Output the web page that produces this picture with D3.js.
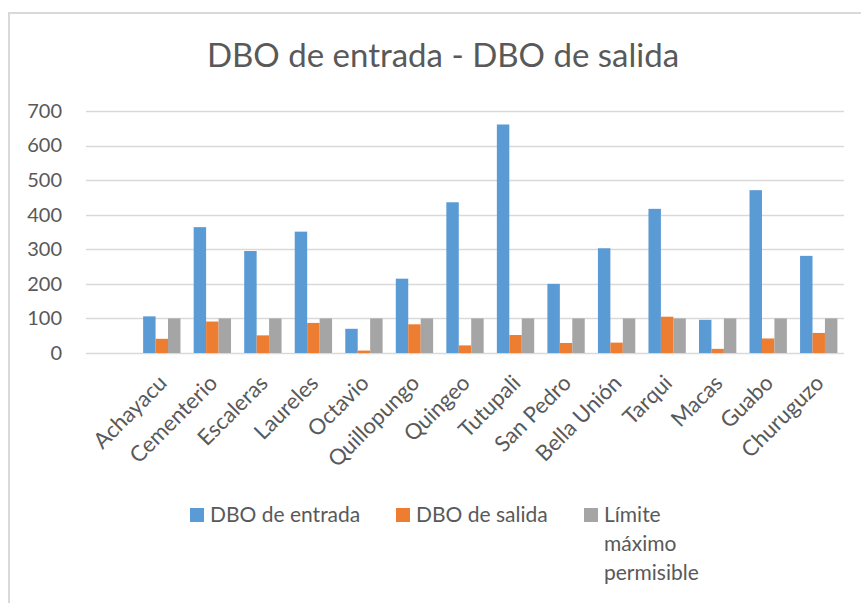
<!DOCTYPE html>
<html>
<head>
<meta charset="utf-8">
<script src="https://cdn.jsdelivr.net/npm/d3@7"></script>
<style>
    body { margin: 0; background: #fff; }
    text { font-family: Lato, "Open Sans", sans-serif; fill: #595959; }
</style>
</head>
<body>
<svg id="chart" width="861" height="603"></svg>
<script>
// Categories (first slot is an empty row in the source sheet)
const categories = ['', 'Achayacu', 'Cementerio', 'Escaleras', 'Laureles', 'Octavio', 'Quillopungo', 'Quingeo',
    'Tutupali', 'San Pedro', 'Bella Unión', 'Tarqui', 'Macas', 'Guabo', 'Churuguzo'];
const dboEntrada = [null, 106, 364, 295, 351, 70, 215, 436, 661, 200, 303, 417, 96, 471, 281];
const dboSalida = [null, 41, 91, 51, 87, 7, 83, 22, 52, 29, 30, 105, 12, 42, 58];
const limite = [null, 100, 100, 100, 100, 100, 100, 100, 100, 100, 100, 100, 100, 100, 100];
const seriesNames = ['DBO de entrada', 'DBO de salida', 'Límite máximo permisible'];
const seriesColors = ['#5B9BD5', '#ED7D31', '#A5A5A5'];
const yTicks = [0, 100, 200, 300, 400, 500, 600, 700];

const svg = d3.select('#chart');
const width = 861, height = 603;

// chart frame
svg.append('path')
    .attr('d', `M9,${height} V13 H${width}`)
    .style('fill', 'none')
    .style('stroke', '#D9D9D9')
    .style('stroke-width', 2);

// title
svg.append('text')
    .attr('x', 443)
    .attr('y', 67)
    .attr('text-anchor', 'middle')
    .style('font-size', '33px')
    .text('DBO de entrada - DBO de salida');

const plot = {left: 86, right: 844, top: 111, bottom: 353};

const x = d3.scaleBand()
    .domain(d3.range(categories.length))
    .range([plot.left, plot.right])
    .paddingInner(0)
    .paddingOuter(0);

const x1 = d3.scaleBand()
    .domain(d3.range(seriesNames.length))
    .range([0, x.bandwidth()])
    .paddingOuter(0.53)
    .paddingInner(0);

const y = d3.scaleLinear()
    .domain([0, 700])
    .range([plot.bottom, plot.top]);

// gridlines
svg.append('g')
    .selectAll('line')
    .data(yTicks)
    .enter()
    .append('line')
    .attr('x1', plot.left)
    .attr('x2', plot.right)
    .attr('y1', d => Math.round(y(d)) + 0.5)
    .attr('y2', d => Math.round(y(d)) + 0.5)
    .style('stroke', '#D9D9D9')
    .style('stroke-width', 1.5);

// y axis labels
const yAxis = svg.append('g')
    .attr('transform', `translate(${plot.left - 24}, 0)`)
    .call(d3.axisLeft(y).tickValues(yTicks).tickSize(0).tickPadding(0));
yAxis.select('.domain').remove();
yAxis.selectAll('text')
    .style('font-family', 'Lato, "Open Sans", sans-serif')
    .style('font-size', '20px')
    .style('fill', '#595959');

// bars
const allSeries = [dboEntrada, dboSalida, limite];
const groups = svg.append('g')
    .selectAll('g')
    .data(categories.map((c, i) => ({c, i})))
    .enter()
    .append('g')
    .attr('transform', d => `translate(${x(d.i)}, 0)`);

groups.selectAll('rect')
    .data(d => allSeries.map((s, k) => ({k, v: s[d.i]})).filter(e => e.v != null))
    .enter()
    .append('rect')
    .attr('x', d => x1(d.k))
    .attr('y', d => y(d.v))
    .attr('width', x1.bandwidth())
    .attr('height', d => y(0) - y(d.v))
    .style('fill', d => seriesColors[d.k]);

// x axis labels, rotated
const xAxis = svg.append('g')
    .attr('transform', `translate(0, ${plot.bottom})`)
    .call(d3.axisBottom(x).tickFormat(i => categories[i]).tickSize(0).tickPadding(0));
xAxis.select('.domain').remove();
xAxis.selectAll('text')
    .attr('transform', 'translate(1, 26) rotate(-45)')
    .attr('text-anchor', 'end')
    .attr('dy', '0.35em')
    .attr('y', 0)
    .style('font-family', 'Lato, "Open Sans", sans-serif')
    .style('font-size', '22px')
    .style('fill', '#595959');

// legend
const legendItems = [
    {x: 190, lines: ['DBO de entrada']},
    {x: 396, lines: ['DBO de salida']},
    {x: 584, lines: ['Límite', 'máximo', 'permisible']}
];
const legend = svg.append('g')
    .selectAll('g')
    .data(legendItems)
    .enter()
    .append('g')
    .attr('transform', d => `translate(${d.x}, 508)`);

legend.append('rect')
    .attr('width', 14)
    .attr('height', 14)
    .style('fill', (d, i) => seriesColors[i]);

legend.append('text')
    .attr('x', 20)
    .attr('y', 14)
    .style('font-size', '21px')
    .selectAll('tspan')
    .data(d => d.lines)
    .enter()
    .append('tspan')
    .attr('x', 20)
    .attr('dy', (d, i) => i == 0 ? 0 : 29)
    .text(d => d);
</script>
</body>
</html>
